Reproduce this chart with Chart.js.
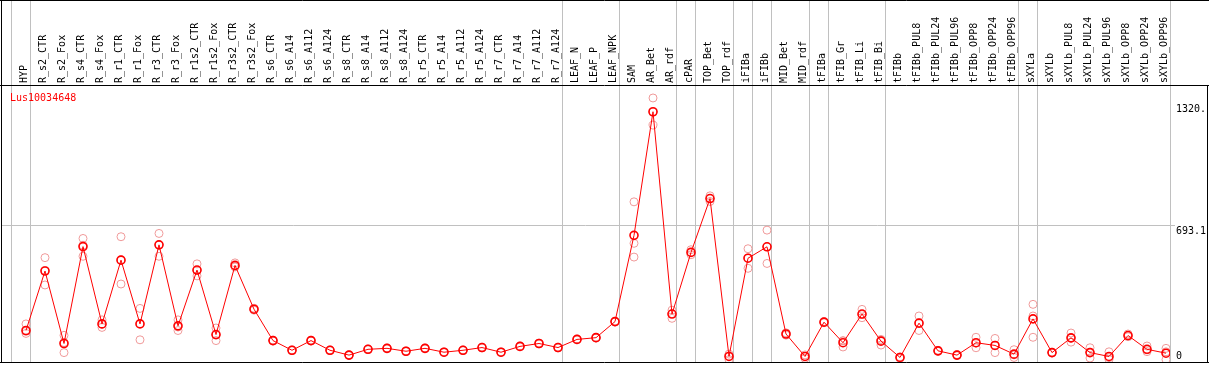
<!DOCTYPE html>
<html>
<head>
<meta charset="utf-8">
<script src="https://cdn.jsdelivr.net/npm/chart.js@4/dist/chart.umd.min.js"></script>
<style>
html, body { margin: 0; padding: 0; background: #fff; }
</style>
</head>
<body>
<canvas id="expChart" width="1209" height="370"></canvas>
<script>
// sample names (top labels)
const samples = ['HYP', 'R_s2_CTR', 'R_s2_Fox', 'R_s4_CTR', 'R_s4_Fox', 'R_r1_CTR', 'R_r1_Fox',
  'R_r3_CTR', 'R_r3_Fox', 'R_r1s2_CTR', 'R_r1s2_Fox', 'R_r3s2_CTR', 'R_r3s2_Fox',
  'R_s6_CTR', 'R_s6_A14', 'R_s6_A112', 'R_s6_A124', 'R_s8_CTR', 'R_s8_A14', 'R_s8_A112', 'R_s8_A124',
  'R_r5_CTR', 'R_r5_A14', 'R_r5_A112', 'R_r5_A124', 'R_r7_CTR', 'R_r7_A14', 'R_r7_A112', 'R_r7_A124',
  'LEAF_N', 'LEAF_P', 'LEAF_NPK', 'SAM', 'AR_Bet', 'AR_rdf', 'cPAR', 'TOP_Bet', 'TOP_rdf',
  'iFIBa', 'iFIBb', 'MID_Bet', 'MID_rdf', 'tFIBa', 'tFIB_Gr', 'tFIB_Li', 'tFIB_Bi',
  'tFIBb', 'tFIBb_PUL8', 'tFIBb_PUL24', 'tFIBb_PUL96', 'tFIBb_OPP8', 'tFIBb_OPP24', 'tFIBb_OPP96',
  'sXYLa', 'sXYLb', 'sXYLb_PUL8', 'sXYLb_PUL24', 'sXYLb_PUL96', 'sXYLb_OPP8', 'sXYLb_OPP24', 'sXYLb_OPP96'];

// mean expression
const meanValues = [150, 457, 83, 583, 184, 513, 184, 592, 174, 462, 129, 486, 260,
  98, 48, 98, 48, 23, 53, 58, 43, 58, 38, 48, 62, 38, 68, 83, 62,
  104, 113, 196, 641, 1279, 235, 553, 831, 16,
  523, 582, 132, 16, 193, 87, 235, 95,
  11, 188, 45, 23, 87, 73, 28,
  210, 36, 112, 36, 16, 124, 53, 33];

// replicates
const rep1 = [184, 526, 125, 625, 205, 634, 264, 651, 205, 494, 163, 499, 265,
  100, 50, 100, 50, 25, 55, 60, 45, 60, 40, 50, 64, 40, 70, 85, 64,
  106, 115, 198, 814, 1350, 255, 567, 845, 28,
  572, 668, 138, 24, 196, 98, 259, 104,
  14, 225, 48, 26, 115, 109, 51,
  285, 38, 137, 61, 40, 132, 70, 58];
const rep2 = [135, 385, 36, 533, 166, 390, 102, 533, 150, 432, 98, 478, 255,
  96, 46, 96, 46, 21, 51, 56, 41, 56, 36, 46, 60, 36, 66, 81, 60,
  102, 111, 194, 529, 1210, 213, 541, 816, 0,
  471, 496, 126, 6, 190, 65, 216, 75,
  6, 150, 42, 20, 61, 36, 11,
  115, 34, 90, 8, 0, 118, 41, 0];
const rep3 = [146, 460, 88, 590, 182, 515, 186, 592, 168, 460, 126, 481, 260,
  99, 48, 98, 48, 23, 53, 58, 43, 58, 38, 48, 62, 38, 68, 83, 62,
  104, 113, 196, 600, 1278, 237, 553, 831, 18,
  525, 582, 132, 16, 193, 96, 232, 100,
  12, 190, 45, 23, 85, 74, 24,
  225, 36, 110, 38, 10, 124, 50, 40];

const yTickValues = [0, 693.1, 1320];
const yTickLabels = ['0', '693.1', '1320.'];
// last sample index of each group (separator lines)
const groupEnds = [-1, 0, 28, 31, 34, 35, 37, 38, 39, 41, 42, 45, 52, 53, 60];
const geneName = 'Lus10034648';

const monoFont = "'DejaVu Sans Mono', monospace";

const framePlugin = {
  id: 'frame',
  beforeDatasetsDraw(chart) {
    const ctx = chart.ctx, xs = chart.scales.x, area = chart.chartArea;
    ctx.save();
    ctx.strokeStyle = '#c0c0c0';
    ctx.lineWidth = 1;
    groupEnds.forEach(i => {
      const x = Math.round(xs.getPixelForValue(i) + 4) + 0.5;
      ctx.beginPath();
      ctx.moveTo(x, 0);
      ctx.lineTo(x, area.bottom);
      ctx.stroke();
    });
    ctx.restore();
  },
  afterDatasetsDraw(chart) {
    const ctx = chart.ctx, area = chart.chartArea, w = chart.width;
    ctx.save();
    ctx.strokeStyle = '#000';
    ctx.lineWidth = 1;
    ctx.beginPath();
    ctx.moveTo(0, 0.5); ctx.lineTo(w, 0.5);
    ctx.moveTo(1.5, 0); ctx.lineTo(1.5, area.bottom);
    ctx.moveTo(0, area.top + 0.5); ctx.lineTo(w, area.top + 0.5);
    ctx.moveTo(0, area.bottom - 0.5); ctx.lineTo(w, area.bottom - 0.5);
    ctx.moveTo(w - 1.5, area.top); ctx.lineTo(w - 1.5, area.bottom);
    ctx.stroke();
    // gene name
    ctx.fillStyle = '#ff0000';
    ctx.font = '10px ' + monoFont;
    ctx.textBaseline = 'top';
    ctx.fillText(geneName, 10, area.top + 8);
    ctx.restore();
  }
};

const repColor = '#f09a9a';
function repData(arr) {
  return arr.map((v, i) => ({ x: i, y: v }));
}

new Chart(document.getElementById('expChart'), {
  type: 'line',
  data: {
    datasets: [
      {
        label: geneName,
        data: meanValues.map((v, i) => ({ x: i, y: v })),
        borderColor: '#ff0000',
        borderWidth: 1,
        pointRadius: 4,
        pointBorderWidth: 1.6,
        pointBorderColor: '#ff0000',
        pointBackgroundColor: 'rgba(0,0,0,0)',
        tension: 0,
        order: 0
      },
      ...[rep1, rep2, rep3].map(r => ({
        label: 'rep',
        data: repData(r),
        showLine: false,
        pointRadius: 4,
        pointBorderWidth: 1,
        pointBorderColor: repColor,
        pointBackgroundColor: 'rgba(0,0,0,0)',
        order: 1
      }))
    ]
  },
  options: {
    responsive: false,
    animation: false,
    layout: { autoPadding: false, padding: { left: 1, right: 1, top: 0, bottom: 1 } },
    plugins: { legend: { display: false }, tooltip: { enabled: false } },
    scales: {
      x: {
        type: 'linear',
        position: 'top',
        min: -1.3158,
        max: 60.21,
        grid: { display: false, drawTicks: false },
        border: { display: false },
        afterBuildTicks: axis => { axis.ticks = samples.map((s, i) => ({ value: i })); },
        afterFit: axis => {
          axis.height = 85;
          axis.paddingLeft = 0;
          axis.paddingRight = 0;
        },
        ticks: {
          autoSkip: false,
          minRotation: 90,
          maxRotation: 90,
          padding: 2,
          labelOffset: 10,
          color: '#000',
          font: { family: monoFont, size: 10 },
          callback: v => samples[v]
        }
      },
      y: {
        type: 'linear',
        position: 'right',
        min: -17.7,
        max: 1417,
        border: { display: false },
        afterBuildTicks: axis => { axis.ticks = yTickValues.map(v => ({ value: v })); },
        afterFit: axis => { axis.width = 38; },
        grid: {
          color: c => (c.tick && c.tick.value === yTickValues[1]) ? '#c0c0c0' : 'rgba(0,0,0,0)',
          tickLength: 5
        },
        ticks: {
          padding: 1,
          color: '#000',
          font: c => ({ family: monoFont, size: 10, lineHeight: (c.tick && c.tick.value === 0) ? 0.6 : 1.2 }),
          callback: v => {
            const lbl = yTickLabels[yTickValues.indexOf(v)];
            return v === 0 ? [lbl, ''] : ['', lbl];
          }
        }
      }
    }
  },
  plugins: [framePlugin]
});
</script>
</body>
</html>
